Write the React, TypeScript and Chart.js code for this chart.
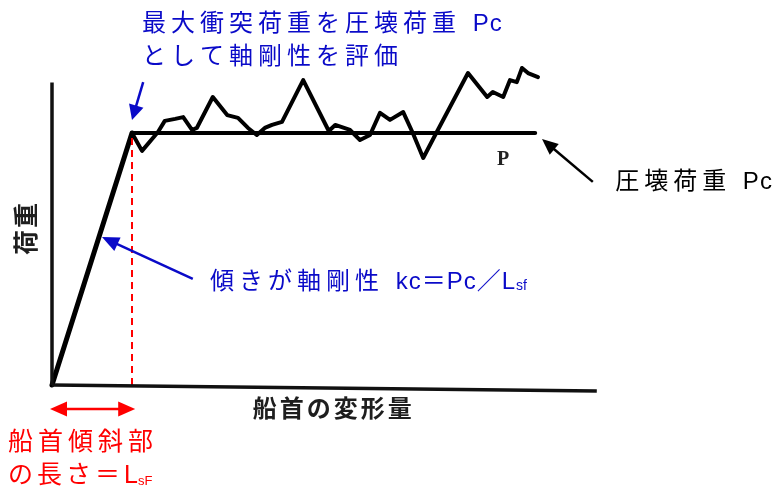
import React, { useEffect, useRef } from "react";
import { Chart, registerables } from "chart.js";

Chart.register(...registerables);

// ---- data (deformation units: Lsf = 10, load units: Pc = 100) ----
const lsf = 10;
const pc = 100;
const pLineEnd = 60.4;
const yAxisTop = 120;
const xAxisEnd = { x: 68.1, y: -2.4 };

const loadCurveX = [10, 11.25, 13.25, 14.1, 15.4, 16.4, 17.5, 18.1, 20.1, 21.9, 23.25, 24.5, 25.6, 26.6, 27.5, 28.75, 31.4, 34.6, 35.4, 37.25, 38.5, 39.75, 41, 42.25, 43.9, 45.1, 46.4, 47.9, 52, 54.4, 55.1, 56.4, 57.25, 58.1, 58.75, 59.5, 60.75];
const loadCurveY = [100, 92.9, 100.4, 104.8, 105.6, 106.3, 101.2, 102, 114.3, 107.1, 106, 102, 99.2, 102, 103.2, 104.4, 121, 100.8, 103.2, 101.2, 97.2, 99.2, 108, 105.2, 108.3, 100, 90.1, 99.2, 123.8, 114.3, 116.3, 114.3, 121, 120.2, 125.8, 123.8, 122.2];

const X_MIN = -6.5;
const X_MAX = 90.75;
const Y_MIN = -42.86;
const Y_MAX = 152.78;

const BLUE = "#0a0ac8";
const RED = "#ff0000";
const BLACK = "#000000";
const LATIN_CJK = '"Liberation Sans", "Noto Sans CJK JP", sans-serif';

type Part = { t: string; size: number; dy?: number; bold?: boolean; sp?: number };
type Label = { x: number; y: number; parts: Part[]; color: string; spacing: number; align?: "left" | "center"; rotate?: boolean; serif?: boolean };
type Arrow = { x0: number; y0: number; x1: number; y1: number; color: string; width: number; head: number; headW: number; both?: boolean };

const labels: Label[] = [
  { x: 11.25, y: 143.3, parts: [{ t: "最大衝突荷重を圧壊荷重 ", size: 24 }, { t: "Pc", size: 24, sp: 1 }], color: BLUE, spacing: 5 },
  { x: 11.25, y: 130.2, parts: [{ t: "として軸剛性を評価", size: 24 }], color: BLUE, spacing: 5 },
  { x: 19.75, y: 40.9, parts: [{ t: "傾きが軸剛性 ", size: 24 }, { t: "kc＝Pc／L", size: 24, sp: 1 }, { t: "sf", size: 14, dy: 4, sp: 0 }], color: BLUE, spacing: 5 },
  { x: 70.4, y: 80.6, parts: [{ t: "圧壊荷重 ", size: 24 }, { t: "Pc", size: 24, sp: 1 }], color: BLACK, spacing: 5 },
  { x: -5.5, y: -23, parts: [{ t: "船首傾斜部", size: 25 }], color: RED, spacing: 5 },
  { x: -5.5, y: -36.1, parts: [{ t: "の長さ＝", size: 25 }, { t: "L", size: 25, sp: 0 }, { t: "sF", size: 13, dy: 5, sp: 0 }], color: RED, spacing: 4 },
  { x: 25.1, y: -9.9, parts: [{ t: "船首の変形量", size: 24, bold: true }], color: "#1e1e1e", spacing: 3 },
  { x: -3, y: 62.3, parts: [{ t: "荷重", size: 25, bold: true }], color: "#1e1e1e", spacing: 2, align: "center", rotate: true },
  { x: 56.4, y: 89.3, parts: [{ t: "P", size: 20, bold: true }], color: "#222222", spacing: 0, align: "center", serif: true },
];

const arrows: Arrow[] = [
  { x0: 11.4, y0: 120.2, x1: 10, y1: 105.2, color: BLUE, width: 2.5, head: 15, headW: 15 },
  { x0: 17.6, y0: 42.1, x1: 6.25, y1: 58.7, color: BLUE, width: 2.5, head: 17, headW: 15 },
  { x0: 67.6, y0: 80.6, x1: 61.25, y1: 97.6, color: BLACK, width: 2.5, head: 16, headW: 14 },
  { x0: -0.25, y0: -9.5, x1: 10.4, y1: -9.5, color: RED, width: 2.5, head: 17, headW: 15, both: true },
];

function drawHead(ctx: CanvasRenderingContext2D, tx: number, ty: number, ang: number, len: number, w: number) {
  ctx.beginPath();
  ctx.moveTo(tx, ty);
  ctx.lineTo(tx - len * Math.cos(ang) + (w / 2) * Math.sin(ang), ty - len * Math.sin(ang) - (w / 2) * Math.cos(ang));
  ctx.lineTo(tx - len * Math.cos(ang) - (w / 2) * Math.sin(ang), ty - len * Math.sin(ang) + (w / 2) * Math.cos(ang));
  ctx.closePath();
  ctx.fill();
}

const annotationPlugin = {
  id: "annotations",
  afterDatasetsDraw(chart: any) {
    const ctx: CanvasRenderingContext2D = chart.ctx;
    const xs = chart.scales.x;
    const ys = chart.scales.y;
    ctx.save();
    for (const a of arrows) {
      const px0 = xs.getPixelForValue(a.x0), py0 = ys.getPixelForValue(a.y0);
      const px1 = xs.getPixelForValue(a.x1), py1 = ys.getPixelForValue(a.y1);
      const ang = Math.atan2(py1 - py0, px1 - px0);
      ctx.strokeStyle = a.color;
      ctx.fillStyle = a.color;
      ctx.lineWidth = a.width;
      ctx.beginPath();
      const sx = a.both ? px0 + (a.head - 2) * Math.cos(ang) : px0;
      const sy = a.both ? py0 + (a.head - 2) * Math.sin(ang) : py0;
      ctx.moveTo(sx, sy);
      ctx.lineTo(px1 - (a.head - 2) * Math.cos(ang), py1 - (a.head - 2) * Math.sin(ang));
      ctx.stroke();
      drawHead(ctx, px1, py1, ang, a.head, a.headW);
      if (a.both) drawHead(ctx, px0, py0, ang + Math.PI, a.head, a.headW);
    }
    for (const l of labels) {
      const px = xs.getPixelForValue(l.x), py = ys.getPixelForValue(l.y);
      ctx.save();
      ctx.fillStyle = l.color;
      ctx.textBaseline = "middle";
      const fontOf = (p: Part) => `${p.bold ? "bold " : ""}${p.size}px ${l.serif ? '"Liberation Serif", "DejaVu Serif", serif' : LATIN_CJK}`;
      const spOf = (p: Part) => (p.sp !== undefined ? p.sp : l.spacing) + "px";
      let total = 0;
      for (const p of l.parts) {
        ctx.font = fontOf(p);
        (ctx as any).letterSpacing = spOf(p);
        total += ctx.measureText(p.t).width;
      }
      ctx.translate(px, py);
      if (l.rotate) ctx.rotate(-Math.PI / 2);
      let cx = l.align === "center" ? -total / 2 : 0;
      ctx.textAlign = "left";
      for (const p of l.parts) {
        ctx.font = fontOf(p);
        (ctx as any).letterSpacing = spOf(p);
        ctx.fillText(p.t, cx, p.dy || 0);
        cx += ctx.measureText(p.t).width;
      }
      ctx.restore();
    }
    ctx.restore();
  },
};

export default function App() {
  const ref = useRef<HTMLCanvasElement | null>(null);
  useEffect(() => {
    if (!ref.current) return;
    const line = (pts: { x: number; y: number }[], color: string, width: number, extra: any = {}) => ({
      data: pts,
      showLine: true,
      borderColor: color,
      borderWidth: width,
      pointRadius: 0,
      borderJoinStyle: "round",
      borderCapStyle: "round",
      fill: false,
      ...extra,
    });
    const chart = new Chart(ref.current, {
      type: "scatter",
      data: {
        datasets: [
          line([{ x: 0, y: 0 }, { x: 0, y: yAxisTop }], "#111", 3.5, { borderCapStyle: "butt" }),
          line([{ x: 0, y: 0 }, xAxisEnd], "#111", 3.5, { borderCapStyle: "butt" }),
          line([{ x: lsf, y: 0 }, { x: lsf, y: pc }], RED, 2, { borderDash: [7, 5], borderCapStyle: "butt" }),
          line([{ x: 0, y: 0 }, { x: lsf, y: pc }], BLACK, 5),
          line([{ x: lsf, y: pc }, { x: pLineEnd, y: pc }], BLACK, 4),
          line(loadCurveX.map((x, i) => ({ x, y: loadCurveY[i] })), BLACK, 4),
        ] as any,
      },
      options: {
        animation: false,
        responsive: true,
        maintainAspectRatio: false,
        layout: { padding: 0 },
        plugins: { legend: { display: false }, tooltip: { enabled: false } },
        scales: {
          x: { type: "linear", display: false, min: X_MIN, max: X_MAX },
          y: { type: "linear", display: false, min: Y_MIN, max: Y_MAX },
        },
      } as any,
      plugins: [annotationPlugin],
    });
    return () => chart.destroy();
  }, []);
  return (
    <div style={{ position: "absolute", left: 0, top: 0, width: 778, height: 493, background: "#fff" }}>
      <canvas ref={ref} />
    </div>
  );
}
